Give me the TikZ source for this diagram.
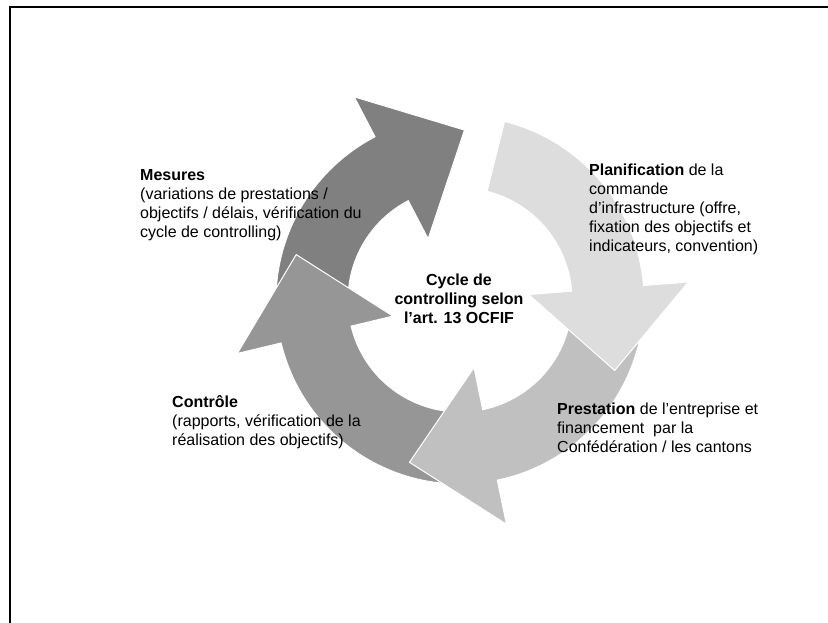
\documentclass[tikz,border=0pt]{standalone}
\usepackage{fontspec}
\setmainfont{Liberation Sans}
\definecolor{mesgray}{HTML}{808080}
\definecolor{congray}{HTML}{969696}
\definecolor{pregray}{HTML}{C0C0C0}
\definecolor{plagray}{HTML}{DDDDDD}
% #1 colour, #2 start angle, #3 notch angle
\newcommand\cycarrow[3]{%
  \filldraw[fill=#1, draw=white, line width=1pt, line join=miter]
    ([shift={(#2:184pt)}]c) arc[start angle=#2, end angle=#3, radius=184pt]
    -- ([shift={(#3:229pt)}]c)
    -- ([shift={(#3-29:170pt)}]c)
    -- ([shift={(#3:69pt)}]c)
    -- ([shift={(#3:112pt)}]c)
    arc[start angle=#3, end angle=#2, radius=112pt] -- cycle;}
\begin{document}
\begin{tikzpicture}[x=1pt,y=1pt,
  lbl/.style={anchor=north west, inner sep=0pt, align=left,
              font=\fontsize{16}{19}\selectfont}]
\useasboundingbox (0,0) rectangle (828,623);
\fill[white] (0,0) rectangle (828,623);
% frame (left and top edges)
\draw[line width=2pt] (10,0) -- (10,616) -- (829,616);
\coordinate (c) at (460,323);
% arrows, clockwise
\cycarrow{mesgray}{184}{117.5}
\cycarrow{congray}{272}{193.5}
\cycarrow{pregray}{357}{281.7}
\cycarrow{plagray}{76}{4.5}
% labels
\node[lbl] (mes) at (140,453.5) {\textbf{Mesures}\\(variations de prestations /\\objectifs / délais, vérification du\\cycle de controlling)};
\node[lbl] (pla) at (589,459.5) {\textbf{Planification} de la\\commande\\d’infrastructure (offre,\\fixation des objectifs et\\indicateurs, convention)};
\node[lbl] (con) at (172,227.5) {\textbf{Contrôle}\\(rapports, vérification de la\\réalisation des objectifs)};
\node[lbl] (pre) at (557,220.5) {\textbf{Prestation} de l’entreprise et\\financement \ par la\\Confédération / les cantons};
\node[inner sep=0pt, align=center, font=\fontsize{16}{19}\selectfont\bfseries] (cen) at (459,324) {Cycle de\\controlling selon\\l’art. 13 OCFIF};
\end{tikzpicture}
\end{document}
